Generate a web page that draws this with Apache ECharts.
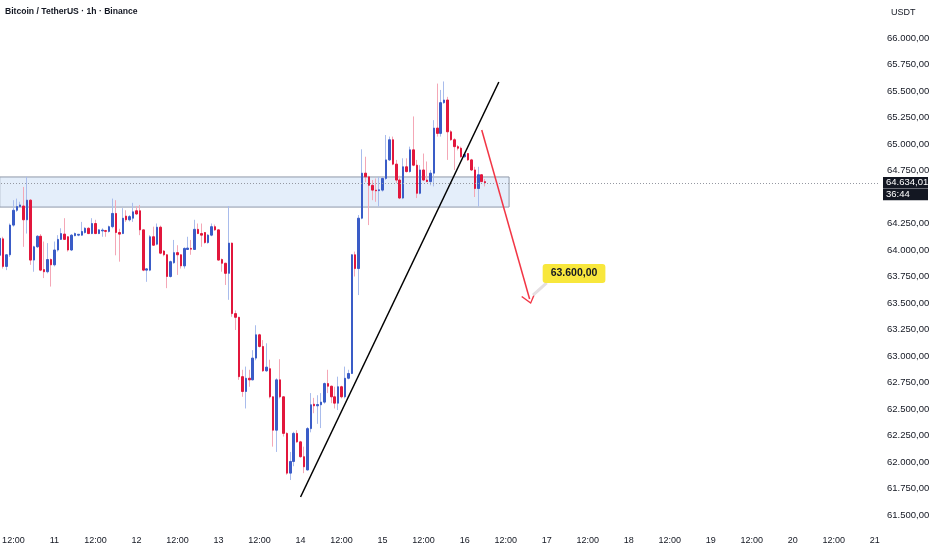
<!DOCTYPE html>
<html><head><meta charset="utf-8">
<script src="https://cdn.jsdelivr.net/npm/echarts@6/dist/echarts.min.js"></script>
<style>html,body{margin:0;padding:0;background:#fff}#c{width:932px;height:550px}</style>
</head><body><div id="c"></div>
<script>
// hourly candles, first candle = day 10 08:00
const firstHour = 8;
const slotCount = 258;
const opens = [
63950,64105,63845,63955,64235,64375,64410,64415,64285,64470,
63905,64030,64130,63815,63795,63910,63860,64000,64100,64150,
64125,64000,64135,64140,64140,64165,64205,64155,64250,64155,
64180,64183,64175,64220,64345,64165,64155,64320,64285,64300,
64370,64370,64190,63810,63810,64125,64055,64215,63990,63955,
63750,63880,63975,63955,63850,64005,64015,64005,64195,64155,
64165,64070,64140,64220,64190,63910,63875,63780,64065,63400,
63365,62805,62665,62790,62775,62980,63200,63090,62860,62880,
62615,62300,62775,62615,62270,61895,62005,62270,62190,62050,
61925,62315,62545,62530,62540,62565,62740,62715,62615,62555,
62710,62615,62790,62835,63955,63825,64300,64725,64690,64610,
64565,64560,64565,64675,64850,65040,64810,64660,64490,64785,
64740,64945,64800,64535,64755,64660,64645,64725,65150,65100,
65390,65415,65115,65040,64975,64960,64880,64910,64850,64755,
64580,64710,64645];
const closes = [
64110,63845,63955,64235,64375,64410,64425,64285,64470,63905,
64030,64130,63810,63795,63910,63860,64000,64100,64155,64100,
64000,64140,64155,64148,64175,64205,64155,64250,64155,64190,
64188,64176,64220,64345,64165,64150,64300,64285,64315,64360,
64340,64190,63810,63822,64125,64045,64215,63970,63955,63750,
63890,63975,63955,63850,64015,64018,64008,64195,64155,64140,
64070,64140,64220,64190,63905,63875,63780,64065,63400,63365,
62805,62665,62790,62775,62980,63200,63090,62860,62895,62615,
62300,62775,62615,62270,61895,62005,62270,62190,62050,61955,
62315,62540,62530,62542,62565,62740,62715,62615,62555,62710,
62615,62790,62835,63955,63825,64300,64725,64690,64610,64565,
64558,64568,64675,64850,65040,64810,64660,64490,64785,64740,
64945,64800,64535,64755,64660,64645,64725,65150,65100,65390,
65415,65115,65040,64975,64960,64880,64900,64850,64755,64580,
64710,64645,64634.01];
const lows = [
63920,63825,63810,63935,64220,64360,64400,64030,64155,63860,
63795,64020,63800,63735,63780,63655,63845,63985,64095,64095,
63985,63990,64130,64130,64135,64155,64150,64150,64150,64150,
64125,64125,64165,64205,63950,63890,64150,64265,64270,64265,
64330,64140,63800,63700,63800,64040,64045,63960,63940,63640,
63740,63870,63765,63825,63825,64000,63955,64000,64150,64030,
64060,64060,64130,64180,63900,63795,63670,63530,63370,63245,
62775,62615,62505,62710,62770,62960,63080,62850,62850,62600,
62145,62095,62600,62240,61880,61830,61960,62180,62040,61895,
61920,62280,62460,62360,62320,62550,62650,62555,62505,62490,
62600,62600,62780,62830,63750,63575,64290,64640,64235,64470,
64455,64410,64550,64660,64840,64800,64630,64480,64480,64730,
64730,64790,64490,64525,64650,64640,64610,64600,65070,65070,
65380,64850,65030,64755,64940,64870,64870,64840,64745,64500,
64410,64640,64600];
const highs = [
64130,64125,63960,64250,64470,64485,64455,64595,64690,64480,
64040,64140,64150,64080,64065,63920,64080,64140,64205,64300,
64130,64150,64165,64150,64265,64215,64215,64300,64285,64195,
64205,64190,64230,64485,64470,64200,64395,64375,64330,64445,
64415,64425,64195,63830,64140,64220,64250,64230,64000,63960,
63900,64095,64045,63960,64025,64125,64095,64285,64250,64250,
64170,64150,64250,64240,64195,63920,63880,64415,64070,63430,
63370,62870,62900,62870,63055,63290,63210,63150,63120,62965,
62620,62790,62970,62620,62280,62095,62285,62300,62200,62145,
62330,62650,62605,62630,62650,62750,62870,62720,62710,62805,
62720,62900,62870,63960,63985,64330,64950,64880,64700,64660,
64675,64690,64690,65085,65070,65070,64850,64700,64865,64865,
64975,65260,64850,64800,64910,64835,64755,65225,65570,65510,
65590,65445,65130,65055,64990,64975,64920,64915,64860,64785,
64785,64715,64670];

// price axis
const priceMin = 61250, priceMax = 66250, priceStep = 250;
const hiddenPriceLabels = [61250, 66250, 64500];

// drawings (category index, price)
const zoneIdx = [0, 149];
const zonePrice = [64689, 64405];
const trendIdx = [88, 146];
const trendPrice = [61670, 65585];
const arrowIdx = [141, 155];
const arrowPrice = [65132, 63537];
const calloutIdx = 168, calloutPrice = 63778, calloutText = '63.600,00';
const tailIdx = [160, 156], tailPrice = [63689, 63575];
const lastPrice = 64634.01, countdownText = '36:44', countdownPrice = 64524;

const cats = [];
for (let i = 0; i < slotCount; i++) {
  const h = firstHour + i;
  const day = 10 + Math.floor(h / 24);
  const hh = h % 24;
  cats.push(day + ' ' + (hh < 10 ? '0' : '') + hh + ':00');
}
function fmt(v) {
  const s = Number(v).toFixed(2).split('.');
  return s[0].replace(/\B(?=(\d{3})+(?!\d))/g, '.') + ',' + s[1];
}
const wickData = opens.map((o, i) => [o, closes[i], lows[i], highs[i]]);
const bodyData = opens.map((o, i) => [o, closes[i], Math.min(o, closes[i]), Math.max(o, closes[i])]);

const FONT = 'Liberation Sans, Arial, sans-serif';
const priceTag = {
  show: true, position: 'end', distance: 3,
  backgroundColor: '#131722', color: '#ffffff', fontSize: 9.5, lineHeight: 9.5,
  padding: [1, 2, 1, 3], width: 40, fontFamily: FONT
};
const chart = echarts.init(document.getElementById('c'), null, {renderer: 'canvas'});
chart.setOption({
  animation: false,
  backgroundColor: '#ffffff',
  textStyle: {fontFamily: FONT},
  title: [
    {text: 'Bitcoin / TetherUS · 1h · Binance', left: 5, top: 7, padding: 0,
     textStyle: {fontSize: 8.6, fontWeight: 'bold', color: '#131722', fontFamily: FONT}},
    {text: 'USDT', left: 891, top: 8, padding: 0,
     textStyle: {fontSize: 9, fontWeight: 'normal', color: '#131722', fontFamily: FONT}}
  ],
  grid: {left: -2, right: 52, top: 11.5, bottom: 8.5, containLabel: false, outerBoundsMode: 'none'},
  xAxis: {
    type: 'category', data: cats, boundaryGap: true, offset: -11,
    axisLine: {show: false}, axisTick: {show: false}, splitLine: {show: false},
    axisLabel: {
      interval: function (idx, val) { return parseInt(val.split(' ')[1], 10) % 12 === 0; },
      formatter: function (val) {
        const p = val.split(' ');
        return p[1] === '00:00' ? p[0] : '12:00';
      },
      fontSize: 9, color: '#131722', margin: 6, fontFamily: FONT
    }
  },
  yAxis: {
    type: 'value', position: 'right', min: priceMin, max: priceMax, interval: priceStep,
    axisLine: {show: false}, axisTick: {show: false}, splitLine: {show: false},
    axisLabel: {
      formatter: function (v) { return hiddenPriceLabels.indexOf(v) >= 0 ? '' : fmt(v); },
      fontSize: 9.5, color: '#131722', margin: 7, fontFamily: FONT
    }
  },
  series: [
    {
      type: 'line', data: [], z: 1, silent: true,
      markArea: {
        silent: true,
        itemStyle: {color: 'rgba(66,133,220,0.14)', borderColor: '#8f99aa', borderWidth: 1},
        data: [[{xAxis: cats[zoneIdx[0]], yAxis: zonePrice[0]}, {xAxis: cats[zoneIdx[1]], yAxis: zonePrice[1]}]]
      }
    },
    {
      type: 'candlestick', data: wickData, z: 2, barWidth: 1, silent: true,
      itemStyle: {color: '#a9bcec', color0: '#f4a7b6', borderColor: '#a9bcec', borderColor0: '#f4a7b6', borderWidth: 1}
    },
    {
      type: 'candlestick', data: bodyData, z: 3, barWidth: 2, silent: true,
      itemStyle: {color: '#3a5cc7', color0: '#e2173c', borderColor: '#3a5cc7', borderColor0: '#e2173c', borderWidth: 1},
      markLine: {
        silent: true, symbol: 'none', animation: false,
        data: [
          {yAxis: lastPrice, lineStyle: {color: '#9598a1', type: [1, 2], width: 1},
           label: Object.assign({}, priceTag, {formatter: fmt(lastPrice)})},
          {yAxis: countdownPrice, lineStyle: {color: 'rgba(0,0,0,0)', width: 1},
           label: Object.assign({}, priceTag, {formatter: countdownText})}
        ]
      }
    },
    {
      type: 'line', data: [], z: 5, silent: true,
      markLine: {
        silent: true, symbol: 'none', animation: false, label: {show: false},
        lineStyle: {color: '#000000', width: 1.5, type: 'solid'},
        data: [[{coord: [cats[trendIdx[0]], trendPrice[0]]}, {coord: [cats[trendIdx[1]], trendPrice[1]]}]]
      }
    },
    {
      type: 'line', data: [], z: 5, silent: true,
      markLine: {
        silent: true, animation: false, label: {show: false},
        symbol: ['none', 'path://M10,0 L20,13 L18.4,14.2 L10,2.8 L1.6,14.2 L0,13 Z'],
        symbolSize: [15, 10],
        lineStyle: {color: '#f23645', width: 1.5, type: 'solid'},
        itemStyle: {color: '#f23645'},
        data: [[{coord: [cats[arrowIdx[0]], arrowPrice[0]]}, {coord: [cats[arrowIdx[1]], arrowPrice[1]]}]]
      }
    },
    {
      type: 'line', data: [], z: 6, silent: true,
      markLine: {
        silent: true, symbol: 'none', animation: false, label: {show: false},
        lineStyle: {color: '#e4dfe2', width: 3, type: 'solid'},
        data: [[{coord: [cats[tailIdx[0]], tailPrice[0]]}, {coord: [cats[tailIdx[1]], tailPrice[1]]}]]
      },
      markPoint: {
        silent: true, animation: false,
        symbol: 'rect', symbolSize: 1,
        itemStyle: {color: 'rgba(0,0,0,0)'},
        label: {show: true, position: 'inside', formatter: calloutText, color: '#131722',
                fontWeight: 'bold', fontSize: 10.5, fontFamily: FONT,
                backgroundColor: '#f8e73c', borderRadius: 3, padding: [4, 8, 4, 8]},
        data: [{coord: [cats[calloutIdx], calloutPrice]}]
      }
    }
  ]
});
</script></body></html>
